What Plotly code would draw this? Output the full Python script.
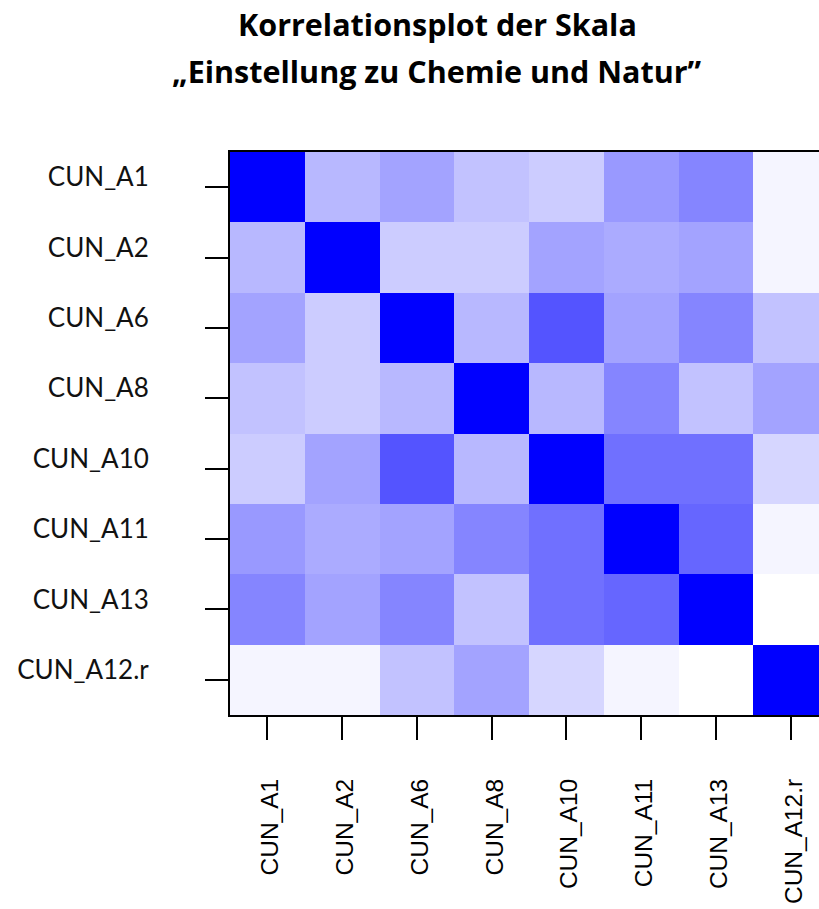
import plotly.graph_objects as go

# Items of the scale, in plotting order
items = ["CUN_A1", "CUN_A2", "CUN_A6", "CUN_A8",
         "CUN_A10", "CUN_A11", "CUN_A13", "CUN_A12.r"]

# Correlation matrix (rows/columns follow `items`)
r_a1 = [1.00, 0.28, 0.36, 0.24, 0.20, 0.40, 0.48, 0.04]
r_a2 = [0.28, 1.00, 0.20, 0.20, 0.36, 0.33, 0.36, 0.04]
r_a6 = [0.36, 0.20, 1.00, 0.28, 0.67, 0.36, 0.48, 0.24]
r_a8 = [0.24, 0.20, 0.28, 1.00, 0.28, 0.48, 0.24, 0.36]
r_a10 = [0.20, 0.36, 0.67, 0.28, 1.00, 0.56, 0.56, 0.16]
r_a11 = [0.40, 0.33, 0.36, 0.48, 0.56, 1.00, 0.60, 0.04]
r_a13 = [0.48, 0.36, 0.48, 0.24, 0.56, 0.60, 1.00, 0.00]
r_a12r = [0.04, 0.04, 0.24, 0.36, 0.16, 0.04, 0.00, 1.00]
corr = [r_a1, r_a2, r_a6, r_a8, r_a10, r_a11, r_a13, r_a12r]

title_lines = ["Korrelationsplot der Skala",
               "„Einstellung zu Chemie und Natur”"]

fig = go.Figure(go.Heatmap(
    z=corr, x=items, y=items,
    colorscale=[[0, "#FFFFFF"], [1, "#0000FF"]],
    zmin=0, zmax=1, showscale=False, xgap=0, ygap=0,
    hovertemplate="%{y} / %{x}: %{z:.2f}<extra></extra>",
))

# Two-line heading, each line placed above the plotting area
plot_h = 909 - 152 - 194
for line, y_px in zip(title_lines, [24, 71]):
    fig.add_annotation(
        text=line, xref="paper", yref="paper",
        x=(437 - 230) / (819 - 230), y=1 + (152 - y_px) / plot_h,
        xanchor="center", yanchor="middle", showarrow=False,
        font=dict(family="Open Sans", size=30.5, color="black", weight="bold"),
    )

fig.update_layout(
    width=819, height=909,
    margin=dict(l=230, r=0, t=152, b=194, autoexpand=False),
    paper_bgcolor="white", plot_bgcolor="white",
    xaxis=dict(
        type="category", range=[-0.5, 7.38], automargin=False,
        showline=True, linecolor="black", linewidth=2, mirror=True,
        ticks="outside", ticklen=23, tickwidth=2, tickcolor="black",
        tickangle=-90, ticklabelstandoff=29, ticklabelshift=3,
        tickfont=dict(family="Liberation Sans", size=24.5, color="black"),
        showgrid=False, zeroline=False,
    ),
    yaxis=dict(
        type="category", autorange="reversed", automargin=False,
        showline=True, linecolor="black", linewidth=2, mirror=False,
        ticks="outside", ticklen=23, tickwidth=2, tickcolor="black",
        ticklabelstandoff=51, ticklabelshift=10,
        tickfont=dict(family="Lato", size=26, color="#111111"),
        showgrid=False, zeroline=False,
    ),
)

fig.write_html("out.html")
